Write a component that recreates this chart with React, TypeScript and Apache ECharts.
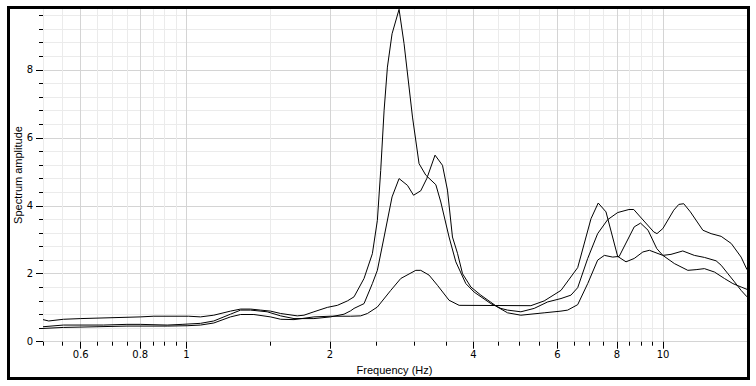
import React, { useEffect, useRef } from "react";
import * as echarts from "echarts";

// ---- data ----
const freqA = [0.5, 0.514, 0.552, 0.6, 0.8, 0.854, 1.011, 1.07, 1.141, 1.237, 1.299, 1.363, 1.43, 1.501, 1.576, 1.708, 1.764, 1.851, 1.975, 2.073, 2.176, 2.247, 2.358, 2.455, 2.515, 2.556, 2.598, 2.64, 2.7, 2.793, 2.861, 2.98, 3.076, 3.178, 3.336, 3.417, 3.556, 3.674, 3.856, 4.014, 4.352, 4.566, 4.717, 5.031, 5.365, 5.725, 6.107, 6.408, 6.62, 6.948, 7.29, 7.65, 8.03, 8.48, 8.68, 8.96, 9.56, 9.71, 9.99, 10.53, 10.79, 11.05, 11.41, 12.12, 12.61, 13.24, 13.9, 14.58, 15.0];
const ampA = [0.65, 0.61, 0.66, 0.68, 0.73, 0.75, 0.75, 0.73, 0.78, 0.9, 0.96, 0.96, 0.93, 0.9, 0.83, 0.76, 0.78, 0.88, 1.01, 1.07, 1.2, 1.32, 1.86, 2.59, 3.57, 5.04, 6.8, 8.08, 9.06, 9.78, 8.77, 6.61, 5.24, 4.9, 4.62, 4.11, 3.08, 2.35, 1.71, 1.46, 1.12, 0.98, 0.93, 0.88, 0.98, 1.17, 1.27, 1.37, 1.59, 2.45, 3.18, 3.59, 3.8, 3.89, 3.89, 3.67, 3.23, 3.18, 3.33, 3.87, 4.04, 4.06, 3.82, 3.28, 3.18, 3.1, 2.89, 2.49, 2.12];

const freqB = [0.5, 0.552, 0.67, 0.75, 0.8, 0.911, 0.979, 1.07, 1.141, 1.237, 1.299, 1.363, 1.477, 1.576, 1.681, 1.851, 2.006, 2.141, 2.211, 2.247, 2.358, 2.455, 2.515, 2.598, 2.7, 2.793, 2.909, 2.995, 3.101, 3.193, 3.323, 3.445, 3.529, 3.615, 3.704, 3.795, 3.951, 4.146, 4.495, 4.717, 5.031, 5.63, 6.107, 6.307, 6.62, 6.948, 7.29, 7.53, 7.84, 8.09, 8.7, 8.97, 9.3, 9.7, 9.99, 10.56, 11.27, 11.73, 12.21, 12.82, 13.45, 14.01, 14.58, 15.0];
const ampB = [0.44, 0.49, 0.49, 0.51, 0.51, 0.49, 0.51, 0.54, 0.61, 0.81, 0.93, 0.93, 0.88, 0.76, 0.68, 0.68, 0.73, 0.81, 0.91, 0.98, 1.12, 1.71, 2.1, 3.08, 4.26, 4.8, 4.6, 4.31, 4.44, 4.8, 5.49, 5.19, 4.46, 3.08, 2.6, 2.0, 1.61, 1.37, 1.02, 0.85, 0.78, 0.85, 0.9, 0.93, 1.09, 1.71, 2.4, 2.54, 2.49, 2.51, 3.38, 3.49, 3.28, 2.74, 2.54, 2.3, 2.1, 2.12, 2.15, 2.05, 1.86, 1.71, 1.61, 1.54];

const freqC = [0.5, 0.552, 0.649, 0.75, 0.911, 1.003, 1.07, 1.141, 1.237, 1.299, 1.385, 1.501, 1.576, 1.681, 1.851, 2.006, 2.211, 2.32, 2.397, 2.515, 2.683, 2.816, 3.028, 3.101, 3.228, 3.362, 3.556, 3.733, 5.28, 5.63, 6.107, 6.62, 7.06, 7.31, 7.59, 8.03, 8.36, 8.7, 9.07, 9.36, 9.99, 10.39, 11.0, 11.63, 12.21, 12.92, 13.24, 13.68, 14.12, 14.58, 15.0];
const ampC = [0.39, 0.42, 0.44, 0.46, 0.46, 0.47, 0.49, 0.55, 0.73, 0.8, 0.8, 0.73, 0.66, 0.65, 0.73, 0.75, 0.75, 0.76, 0.83, 1.02, 1.51, 1.86, 2.1, 2.1, 1.96, 1.66, 1.22, 1.07, 1.06, 1.2, 1.51, 2.18, 3.62, 4.08, 3.82, 2.51, 2.35, 2.45, 2.64, 2.69, 2.54, 2.57, 2.67, 2.54, 2.48, 2.38, 2.25, 2.0, 1.76, 1.51, 1.32];

const xMajorTicks = [0.6, 0.8, 1, 2, 4, 6, 8, 10];
const xMinorTicks = [0.5, 0.55, 0.65, 0.7, 0.75, 0.85, 0.9, 0.95, 1.5, 2.5, 3, 3.5, 4.5, 5, 5.5, 6.5, 7, 7.5, 8.5, 9, 9.5, 15];
const yMajorTicks = [0, 2, 4, 6, 8];
const yMinorTicks = [0.4, 0.8, 1.2, 1.6, 2.4, 2.8, 3.2, 3.6, 4.4, 4.8, 5.2, 5.6, 6.4, 6.8, 7.2, 7.6, 8.4, 8.8, 9.2, 9.6];

const X_MIN = 0.5;
const X_MAX = 15;
const Y_MAX = 9.79;

const xTitle = "Frequency (Hz)";
const yTitle = "Spectrum amplitude";

const zip = (f: number[], a: number[]) => f.map((v, i) => [v, a[i]]);

export default function App() {
  const ref = useRef<HTMLDivElement>(null);
  useEffect(() => {
    if (!ref.current) return;
    const chart = echarts.init(ref.current, undefined, { renderer: "svg" });
    const labelFont = { fontFamily: "DejaVu Sans", fontSize: 10, color: "#000" };
    const fmt = (v: number) => String(+Number(v).toPrecision(6));
    const xBase = {
      type: "log",
      logBase: 10,
      min: X_MIN,
      max: X_MAX,
      position: "bottom",
      axisLine: { show: false, onZero: false },
    };
    const yBase = {
      type: "value",
      min: 0,
      max: Y_MAX,
      position: "left",
      axisLine: { show: false, onZero: false },
    };
    const line = (name: string, f: number[], a: number[]) => ({
      name,
      type: "line",
      xAxisIndex: 0,
      yAxisIndex: 0,
      data: zip(f, a),
      showSymbol: false,
      symbol: "none",
      lineStyle: { color: "#000", width: 1 },
      z: 5,
    });
    chart.setOption({
      animation: false,
      backgroundColor: "#fff",
      grid: { left: 43, right: 9, top: 9, bottom: 44.3, containLabel: false },
      xAxis: [
        {
          ...xBase,
          axisTick: { show: true, customValues: xMinorTicks, length: 4, lineStyle: { color: "#000", width: 1 } },
          axisLabel: { show: false },
          splitLine: { show: true, lineStyle: { color: "#ebebeb", width: 1 } },
        },
        {
          ...xBase,
          axisTick: { show: true, customValues: xMajorTicks, length: 7, lineStyle: { color: "#000", width: 1 } },
          axisLabel: { show: true, customValues: xMajorTicks, formatter: fmt, margin: 8, ...labelFont },
          splitLine: { show: true, lineStyle: { color: "#d4d4d4", width: 1 } },
        },
      ],
      yAxis: [
        {
          ...yBase,
          axisTick: { show: true, customValues: yMinorTicks, length: 4, lineStyle: { color: "#000", width: 1 } },
          axisLabel: { show: false },
          splitLine: { show: true, lineStyle: { color: "#ebebeb", width: 1 } },
        },
        {
          ...yBase,
          axisTick: { show: true, customValues: yMajorTicks, length: 7, lineStyle: { color: "#000", width: 1 } },
          axisLabel: { show: true, customValues: yMajorTicks, formatter: fmt, margin: 10, ...labelFont },
          splitLine: { show: true, lineStyle: { color: "#d4d4d4", width: 1 } },
        },
      ],
      series: [line("A", freqA, ampA), line("B", freqB, ampB), line("C", freqC, ampC)],
      graphic: [
        {
          type: "text",
          x: 394.5,
          y: 370,
          z: 50,
          style: {
            text: xTitle,
            font: '11px "Liberation Sans"',
            fill: "#000",
            align: "center",
            verticalAlign: "middle",
            textAlign: "center",
            textVerticalAlign: "middle",
          },
        },
        {
          type: "text",
          x: 18,
          y: 175,
          rotation: Math.PI / 2,
          z: 50,
          style: {
            text: yTitle,
            font: '11px "Liberation Sans"',
            fill: "#000",
            align: "center",
            verticalAlign: "middle",
            textAlign: "center",
            textVerticalAlign: "middle",
          },
        },
        {
          type: "rect",
          z: 100,
          shape: { x: 8.5, y: 7.5, width: 740, height: 371 },
          style: { fill: "none", stroke: "#000", lineWidth: 3 },
        },
      ],
    });
    return () => chart.dispose();
  }, []);
  return (
    <div
      ref={ref}
      style={{ position: "fixed", left: 0, top: 0, width: 756, height: 386, background: "#fff" }}
    />
  );
}
